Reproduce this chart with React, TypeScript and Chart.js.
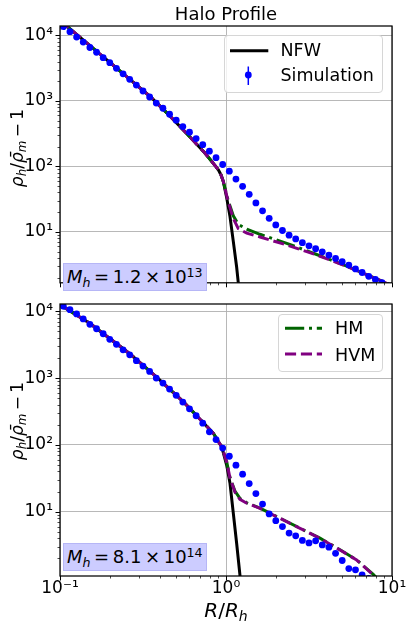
import React, { useEffect, useRef } from 'react';
import { Chart, registerables } from 'chart.js';

Chart.register(...registerables);

const FONT = "'DejaVu Sans', sans-serif";

// Simulation radial bins, R / R_h
const simR = [0.1047, 0.1148, 0.1259, 0.1380, 0.1514, 0.1660, 0.1820, 0.1995, 0.2188, 0.2399,
  0.2630, 0.2884, 0.3162, 0.3467, 0.3802, 0.4169, 0.4571, 0.5012, 0.5495, 0.6026,
  0.6607, 0.7244, 0.7943, 0.8710, 0.9550, 1.047, 1.148, 1.259, 1.380, 1.514,
  1.660, 1.820, 1.995, 2.188, 2.399, 2.630, 2.884, 3.162, 3.467, 3.802,
  4.169, 4.571, 5.012, 5.495, 6.026, 6.607, 7.244, 7.943, 8.710, 9.550];

// Simulation profile, M_h = 1.2e13
const simTop = [13650, 11430, 9460, 7930, 6550, 5550, 4590, 3850, 3150, 2600,
  2140, 1750, 1420, 1150, 927, 774, 627, 508, 406, 333,
  266, 215, 171, 136, 107, 84.7, 64.0, 49.7, 37.5, 27.7,
  21.0, 16.1, 12.8, 10.5, 8.93, 7.82, 6.84, 6.12, 5.53, 4.97,
  4.43, 3.93, 3.51, 3.11, 2.72, 2.40, 2.10, 1.88, 1.68, 1.50];

// Simulation profile, M_h = 8.1e14
const simBottom = [11890, 10570, 9120, 7670, 6380, 5480, 4610, 3800, 3200, 2650,
  2230, 1820, 1510, 1260, 1000, 841, 684, 551, 437, 347,
  273, 211, 157, 120, 89.7, 67.6, 49.7, 36.4, 26.4, 18.7,
  13.0, 9.25, 7.35, 5.98, 4.79, 4.36, 3.72, 3.41, 3.67, 3.18,
  2.94, 2.38, 1.86, 1.41, 1.35, 1.13, 1.00];

// Model curves, top panel (shared inner part, then tails)
const topInnerR = [0.1, 0.1096, 0.1742, 0.3516, 0.4603, 0.6067, 0.7464, 0.8375, 0.8995, 0.9333, 0.9638];
const topInnerY = [17060, 13960, 5200, 1153, 586, 281, 160, 112, 88.9, 74.1, 58.6];
const nfwTopTailR = [1.009, 1.057, 1.107, 1.159, 1.186, 1.213];
const nfwTopTailY = [33.6, 17.2, 7.10, 2.91, 1.67, 0.93];
const hvmTopTailR = [1.033, 1.107, 1.186, 1.334, 1.603, 2.323, 3.516, 5.333, 8.091, 10];
const hvmTopTailY = [28.4, 16.0, 11.2, 9.57, 8.38, 6.32, 4.45, 2.98, 1.91, 1.52];
const hmTopTailY = [29.5, 17.6, 13.1, 11.0, 9.20, 6.70, 4.52, 3.01, 1.91, 1.52];

// Model curves, bottom panel
const botInnerR = [0.1, 0.1517, 0.2642, 0.3837, 0.5585, 0.7656, 0.8395, 0.8995, 0.9419];
const botInnerY = [12560, 6560, 2296, 1021, 432, 190, 149, 112, 94.0];
const nfwBotTailR = [1.009, 1.057, 1.107, 1.159, 1.213, 1.230];
const nfwBotTailY = [50.0, 26.6, 9.46, 3.37, 1.13, 0.68];
const hvmBotTailR = [1.009, 1.057, 1.132, 1.213, 1.334, 1.603, 2.113, 2.793, 3.681, 4.864, 6.124, 7.709, 8.472];
const hvmBotTailY = [56.1, 31.9, 19.7, 15.3, 13.4, 11.2, 7.96, 5.64, 4.00, 2.67, 1.89, 1.13, 0.885];
const hmBotTailY = [56.1, 32.5, 20.4, 15.8, 13.6, 11.3, 8.0, 5.66, 4.02, 2.69, 1.90, 1.15, 0.9];

// Axis ranges and tick positions
const xMin = 0.1;
const xMax = 10;
const xTicks = [0.1, 1, 10];
const yTopRange = [1.67, 13960];
const yBotRange = [1.09, 12850];
const yTicks = [10, 100, 1000, 10000];

const SUP: Record<string, string> = { '-': '\u207B', '0': '\u2070', '1': '\u00B9', '2': '\u00B2', '3': '\u00B3', '4': '\u2074', '5': '\u2075', '6': '\u2076', '7': '\u2077', '8': '\u2078', '9': '\u2079' };
const powLabel = (v: number) => '10' + String(Math.round(Math.log10(v))).split('').map((c) => SUP[c]).join('');

const pts = (xs: number[], ys: number[]) => ys.map((y, i) => ({ x: xs[i], y }));

const frameTicks = {
  id: 'frameTicks',
  afterDraw(chart: any) {
    const { ctx, chartArea: a, scales } = chart;
    const xs = scales.x;
    const ys = scales.y;
    const logTicks = (min: number, max: number) => {
      const out: { v: number; major: boolean }[] = [];
      for (let e = Math.floor(Math.log10(min)) - 1; e <= Math.ceil(Math.log10(max)); e++) {
        for (let k = 1; k <= 9; k++) {
          const v = k * Math.pow(10, e);
          if (v >= min * 0.9999 && v <= max * 1.0001) out.push({ v, major: k === 1 });
        }
      }
      return out;
    };
    ctx.save();
    ctx.strokeStyle = '#000';
    for (const t of logTicks(ys.min, ys.max)) {
      const p = Math.round(ys.getPixelForValue(t.v)) + 0.5;
      ctx.lineWidth = t.major ? 1 : 0.7;
      ctx.beginPath();
      ctx.moveTo(a.left, p);
      ctx.lineTo(a.left - (t.major ? 4.5 : 2.5), p);
      ctx.stroke();
    }
    for (const t of logTicks(xs.min, xs.max)) {
      const p = Math.round(xs.getPixelForValue(t.v)) + 0.5;
      ctx.lineWidth = t.major ? 1 : 0.7;
      ctx.beginPath();
      ctx.moveTo(p, a.bottom);
      ctx.lineTo(p, a.bottom + (t.major ? 4.5 : 2.5));
      ctx.stroke();
    }
    ctx.lineWidth = 1.25;
    ctx.strokeRect(a.left, a.top, a.right - a.left, a.bottom - a.top);
    ctx.restore();
  },
};

function buildConfig(isTop: boolean): any {
  const innerR = isTop ? topInnerR : botInnerR;
  const innerY = isTop ? topInnerY : botInnerY;
  const nfw = pts(innerR.concat(isTop ? nfwTopTailR : nfwBotTailR), innerY.concat(isTop ? nfwTopTailY : nfwBotTailY));
  const hvm = pts(innerR.concat(isTop ? hvmTopTailR : hvmBotTailR), innerY.concat(isTop ? hvmTopTailY : hvmBotTailY));
  const hm = pts(innerR.concat(isTop ? hvmTopTailR : hvmBotTailR), innerY.concat(isTop ? hmTopTailY : hmBotTailY));
  const sim = pts(simR, isTop ? simTop : simBottom);
  const yr = isTop ? yTopRange : yBotRange;
  const gridCol = '#b0b0b0';
  return {
    type: 'scatter',
    data: {
      datasets: [
        { label: 'Simulation', data: sim, showLine: false, pointRadius: 3.4, pointBackgroundColor: '#0000ff', pointBorderWidth: 0, order: 0, clip: 0 },
        { label: 'HVM', data: hvm, showLine: true, borderColor: '#800080', borderWidth: 3, borderDash: [11.1, 4.8], borderCapStyle: 'butt', pointRadius: 0, order: 1, clip: 0, tension: 0 },
        { label: 'HM', data: hm, showLine: true, borderColor: '#006400', borderWidth: 3, borderDash: [19.2, 4.8, 3, 4.8], borderCapStyle: 'butt', pointRadius: 0, order: 2, clip: 0, tension: 0 },
        { label: 'NFW', data: nfw, showLine: true, borderColor: '#000000', borderWidth: 3, pointRadius: 0, order: 3, clip: 0, tension: 0 },
      ],
    },
    options: {
      responsive: false,
      animation: false,
      events: [],
      layout: { padding: { left: 0, right: 21, top: isTop ? 26 : 24, bottom: 0 } },
      plugins: { legend: { display: false }, title: { display: false }, tooltip: { enabled: false } },
      scales: {
        x: {
          type: 'logarithmic',
          min: xMin,
          max: xMax,
          afterBuildTicks: (s: any) => { s.ticks = xTicks.map((v) => ({ value: v, major: true })); },
          afterFit: (s: any) => { s.height = isTop ? 3 : 52; },
          ticks: { display: !isTop, autoSkip: false, maxRotation: 0, padding: 2, color: '#000', font: { family: FONT, size: 17 }, callback: (v: any) => powLabel(Number(v)) },
          grid: { color: gridCol, lineWidth: 0.9, drawTicks: false },
          border: { display: false },
        },
        y: {
          type: 'logarithmic',
          min: yr[0],
          max: yr[1],
          afterBuildTicks: (s: any) => { s.ticks = yTicks.filter((v) => v >= yr[0] && v <= yr[1]).map((v) => ({ value: v, major: true })); },
          afterFit: (s: any) => { s.width = 60; },
          ticks: { autoSkip: false, padding: 7, color: '#000', font: { family: FONT, size: 17 }, callback: (v: any) => powLabel(Number(v)) },
          grid: { color: gridCol, lineWidth: 0.9, drawTicks: false },
          border: { display: false },
        },
      },
    },
    plugins: [frameTicks],
  };
}

const Sub = ({ children }: { children: React.ReactNode }) => (
  <span style={{ fontSize: '0.7em', fontStyle: 'italic', position: 'relative', top: '0.28em' }}>{children}</span>
);
const Sup = ({ children }: { children: React.ReactNode }) => (
  <span style={{ fontSize: '0.7em', position: 'relative', top: '-0.45em' }}>{children}</span>
);

function YLabel({ cx, cy }: { cx: number; cy: number }) {
  return (
    <div style={{ position: 'absolute', left: cx, top: cy, width: 0, height: 0 }}>
      <div style={{ position: 'absolute', left: 0, top: 0, transform: 'translate(-50%,-50%) rotate(-90deg)', whiteSpace: 'nowrap', fontSize: 17, lineHeight: 1 }}>
        <i>{'\u03C1'}</i><Sub>h</Sub>/<i>{'\u03C1\u0304'}</i><Sub>m</Sub>{'\u2009\u2212\u20091'}
      </div>
    </div>
  );
}

function MassBox({ top, mant, exp }: { top: number; mant: string; exp: string }) {
  return (
    <div style={{ position: 'absolute', left: 63, top, width: 144, height: 28, background: '#ccccff', border: '1px solid #b6b6f6', boxSizing: 'border-box', fontSize: 18, lineHeight: '26px', whiteSpace: 'nowrap', paddingLeft: 3, overflow: 'visible' }}>
      <i>M</i><Sub>h</Sub>{'\u2009=\u2009' + mant + '\u2009\u00D7\u200910'}<Sup>{exp}</Sup>
    </div>
  );
}

const legText = (left: number, top: number, text: string) => (
  <div style={{ position: 'absolute', left, top, fontSize: 17.5, lineHeight: 1, whiteSpace: 'nowrap' }}>{text}</div>
);

export default function App() {
  const topRef = useRef<HTMLCanvasElement>(null);
  const botRef = useRef<HTMLCanvasElement>(null);
  useEffect(() => {
    const c1 = new Chart(topRef.current as HTMLCanvasElement, buildConfig(true));
    const c2 = new Chart(botRef.current as HTMLCanvasElement, buildConfig(false));
    return () => { c1.destroy(); c2.destroy(); };
  }, []);
  return (
    <div style={{ position: 'absolute', left: 0, top: 0, width: 413, height: 628, background: '#fff', fontFamily: FONT, color: '#000', overflow: 'hidden' }}>
      <canvas ref={topRef} width={413} height={300} style={{ position: 'absolute', left: 0, top: 0, width: 413, height: 300 }} />
      <canvas ref={botRef} width={413} height={348} style={{ position: 'absolute', left: 0, top: 280, width: 413, height: 348 }} />

      <div style={{ position: 'absolute', left: 60, top: 5, width: 332, textAlign: 'center', fontSize: 18, lineHeight: 1 }}>Halo Profile</div>

      <YLabel cx={17} cy={148} />
      <YLabel cx={17} cy={421} />

      <div style={{ position: 'absolute', left: 60, top: 600, width: 332, textAlign: 'center', fontSize: 20, lineHeight: 1, whiteSpace: 'nowrap' }}>
        <i>R</i>/<i>R</i><Sub>h</Sub>
      </div>

      <MassBox top={263} mant="1.2" exp="13" />
      <MassBox top={543} mant="8.1" exp="14" />

      {/* top legend */}
      <div style={{ position: 'absolute', left: 224, top: 35, width: 159, height: 58, border: '1px solid #d6d6d6', borderRadius: 4, background: 'rgba(255,255,255,0.8)', boxSizing: 'border-box' }} />
      <svg style={{ position: 'absolute', left: 229, top: 44 }} width={42} height={14}>
        <line x1={1} y1={6.7} x2={39.3} y2={6.7} stroke="#000" strokeWidth={3} />
      </svg>
      <svg style={{ position: 'absolute', left: 240, top: 64 }} width={18} height={24}>
        <line x1={8.3} y1={2.5} x2={8.3} y2={21} stroke="#0000ff" strokeWidth={1.5} />
        <circle cx={8.3} cy={11} r={3.4} fill="#0000ff" />
      </svg>
      {legText(280.5, 42, 'NFW')}
      {legText(280.5, 67, 'Simulation')}

      {/* bottom legend */}
      <div style={{ position: 'absolute', left: 278, top: 314, width: 105, height: 58, border: '1px solid #d6d6d6', borderRadius: 4, background: 'rgba(255,255,255,0.8)', boxSizing: 'border-box' }} />
      <svg style={{ position: 'absolute', left: 284, top: 322 }} width={42} height={40}>
        <line x1={1} y1={6.3} x2={38} y2={6.3} stroke="#006400" strokeWidth={3} strokeDasharray="19.2 4.8 3 4.8" />
        <line x1={1} y1={32} x2={38} y2={32} stroke="#800080" strokeWidth={3} strokeDasharray="11.1 4.8" />
      </svg>
      {legText(335, 320, 'HM')}
      {legText(335, 346.5, 'HVM')}
    </div>
  );
}
